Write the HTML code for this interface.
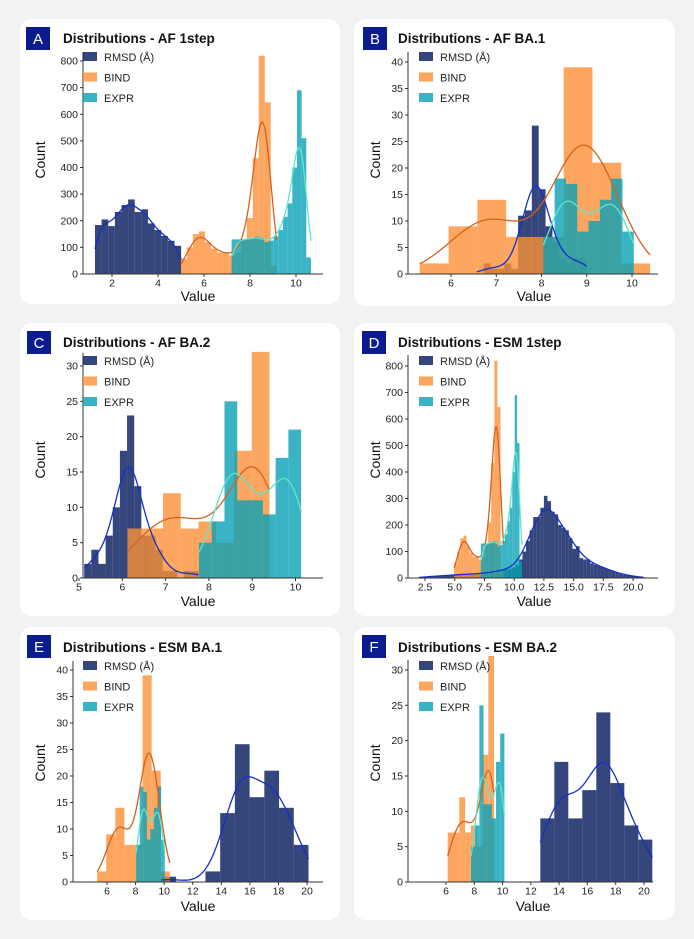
<!DOCTYPE html>
<html><head><meta charset="utf-8"><title>Distributions</title>
<style>
html,body{margin:0;padding:0;background:#f2f2f2;}
svg{display:block;font-family:"Liberation Sans",sans-serif;}
</style></head>
<body>
<svg id="fig" width="694" height="939" viewBox="0 0 694 939"></svg>
<script>
// ---------- DATA ----------
// Panel A: AF 1step
const aRmsdStart = 1.26, aRmsdWidth = 0.288;
const aRmsdCounts = [184,205,180,233,259,280,233,243,190,165,143,125,106];
const aBindStart = 5.0, aBindWidth = 0.26;
const aBindCounts = [58,100,150,160,120,95,80,80,70,80,130,210,435,820,645,30];
const aExprStart = 7.2, aExprWidth = 0.203;
const aExprCounts = [130,130,130,130,135,140,135,120,125,140,165,215,265,400,690,510,62];
// Panel B: AF BA.1
const bRmsdStart = 6.57, bRmsdWidth = 0.152;
const bRmsdCounts = [0,2,1,1,2,1,11,12,28,16,9,6,3,2,3,3];
const bBindStart = 5.31, bBindWidth = 0.636;
const bBindCounts = [2,9,14,7,7,39,21,2];
const bExprStart = 8.04, bExprWidth = 0.25;
const bExprCounts = [7,18,17,8,10,14,18,8];
// Panel C: AF BA.2
const cRmsdStart = 5.12, cRmsdWidth = 0.165;
const cRmsdCounts = [2,4,2,6,10,18,23,13,6,6,4,1,1,0,1,1];
const cBindStart = 6.12, cBindWidth = 0.41;
const cBindCounts = [7,7,12,7,8,5,18,32];
const cExprStart = 7.77, cExprWidth = 0.295;
const cExprCounts = [5,8,25,11,11,9,17,21];
// Panel D: ESM 1step
const dRmsdStart = 2.0, dRmsdWidth = 0.3;
const dRmsdCounts = [3,4,5,6,7,8,9,10,10,11,12,13,14,15,15,16,16,17,18,20,22,25,28,30,32,35,40,50,70,
  100,140,180,230,230,265,310,290,250,240,200,190,180,150,110,120,75,70,70,55,50,45,40,35,30,25,20,15,12,10,8,6,4,3];
const dBindStart = 4.95, dBindWidth = 0.26;
const dBindCounts = [58,100,150,160,120,95,80,80,70,80,130,210,435,820,645,30];
const dExprStart = 7.2, dExprWidth = 0.203;
const dExprCounts = [130,130,130,130,135,140,135,120,125,140,165,215,265,400,690,510,62];
// Panel E: ESM BA.1
const eRmsdStart = 9.8, eRmsdWidth = 1.03;
const eRmsdCounts = [1,0,0,2,13,26,16,21,14,7];
const eBindStart = 5.31, eBindWidth = 0.636;
const eBindCounts = [2,9,14,7,7,39,21,2];
const eExprStart = 8.04, eExprWidth = 0.25;
const eExprCounts = [7,18,17,8,10,14,18,8];
// Panel F: ESM BA.2
const fRmsdStart = 12.67, fRmsdWidth = 0.99;
const fRmsdCounts = [9,17,9,13,24,14,8,6];
const fBindStart = 6.12, fBindWidth = 0.41;
const fBindCounts = [7,7,12,7,8,5,18,32];
const fExprStart = 7.77, fExprWidth = 0.295;
const fExprCounts = [5,8,25,11,11,9,17,21];
// Tick labels
const ticksY800 = [0,100,200,300,400,500,600,700,800];
const ticksY40 = [0,5,10,15,20,25,30,35,40];
const ticksY30 = [0,5,10,15,20,25,30];
const ticksXA = [2,4,6,8,10];
const ticksXB = [6,7,8,9,10];
const ticksXC = [5,6,7,8,9,10];
const ticksXD = [2.5,5.0,7.5,10.0,12.5,15.0,17.5,20.0];
const ticksXEF = [6,8,10,12,14,16,18,20];
const seriesNames = ["RMSD (Å)","BIND","EXPR"];

// ---------- STYLE ----------
const fills = ["#01185a","#fc9037","#09a1b5"];
const lineCols = ["#1330c8","#d4621c","#5ee6cf"];
const NS = "http://www.w3.org/2000/svg";
const svg = document.getElementById("fig");
function mk(tag, attrs, parent){
  const e = document.createElementNS(NS, tag);
  for (const k in attrs) e.setAttribute(k, attrs[k]);
  (parent||svg).appendChild(e);
  return e;
}

const panels = [
 {key:"a",letter:"A",title:"Distributions - AF 1step",card:[20,19,320,285],box:[26,27],tx:63,ty:43,
  ax:{x:83,xEnd:323,yTop:52,y0:274,v0:2,p0:112,ppu:23,ymax:800,ytop:61},yt:ticksY800,xt:ticksXA,dec:0,
  leg:[83,52],cnt:[40,160],val:[198,301],
  s:[[aRmsdStart,aRmsdWidth,aRmsdCounts],[aBindStart,aBindWidth,aBindCounts],[aExprStart,aExprWidth,aExprCounts]]},
 {key:"b",letter:"B",title:"Distributions - AF BA.1",card:[354,19,321,287],box:[363,27],tx:398,ty:43,
  ax:{x:408,xEnd:658,yTop:52,y0:274,v0:6,p0:451,ppu:45.25,ymax:40,ytop:62},yt:ticksY40,xt:ticksXB,dec:0,
  leg:[419,52],cnt:[375,160],val:[534,301],
  s:[[bRmsdStart,bRmsdWidth,bRmsdCounts],[bBindStart,bBindWidth,bBindCounts],[bExprStart,bExprWidth,bExprCounts]]},
 {key:"c",letter:"C",title:"Distributions - AF BA.2",card:[20,323,320,293],box:[27,331],tx:63,ty:347,
  ax:{x:83,xEnd:323,yTop:353,y0:578,v0:5,p0:79,ppu:43.3,ymax:30,ytop:366},yt:ticksY30,xt:ticksXC,dec:0,
  leg:[83,356],cnt:[40,460],val:[198,606],
  s:[[cRmsdStart,cRmsdWidth,cRmsdCounts],[cBindStart,cBindWidth,cBindCounts],[cExprStart,cExprWidth,cExprCounts]]},
 {key:"d",letter:"D",title:"Distributions - ESM 1step",card:[354,323,321,293],box:[362,331],tx:398,ty:347,
  ax:{x:408,xEnd:658,yTop:355,y0:578,v0:2.5,p0:425,ppu:11.89,ymax:800,ytop:366},yt:ticksY800,xt:ticksXD,dec:1,
  leg:[419,356],cnt:[375,460],val:[534,606],
  s:[[dRmsdStart,dRmsdWidth,dRmsdCounts],[dBindStart,dBindWidth,dBindCounts],[dExprStart,dExprWidth,dExprCounts]]},
 {key:"e",letter:"E",title:"Distributions - ESM BA.1",card:[20,627,320,293],box:[27,635],tx:63,ty:652,
  ax:{x:73,xEnd:323,yTop:661,y0:882,v0:6,p0:107,ppu:14.29,ymax:40,ytop:670},yt:ticksY40,xt:ticksXEF,dec:0,
  leg:[83,661],cnt:[40,763],val:[198,911],
  s:[[eRmsdStart,eRmsdWidth,eRmsdCounts],[eBindStart,eBindWidth,eBindCounts],[eExprStart,eExprWidth,eExprCounts]]},
 {key:"f",letter:"F",title:"Distributions - ESM BA.2",card:[354,627,321,293],box:[362,635],tx:398,ty:652,
  ax:{x:408,xEnd:653,yTop:660,y0:882,v0:6,p0:446,ppu:14.14,ymax:30,ytop:670},yt:ticksY30,xt:ticksXEF,dec:0,
  leg:[419,661],cnt:[375,763],val:[533,911],
  s:[[fRmsdStart,fRmsdWidth,fRmsdCounts],[fBindStart,fBindWidth,fBindCounts],[fExprStart,fExprWidth,fExprCounts]]}
];

function kde(start, width, counts){
  let n=0, m=0;
  counts.forEach((c,i)=>{ n+=c; m+=c*(start+(i+0.5)*width); });
  m/=n;
  let v=0;
  counts.forEach((c,i)=>{ const x=start+(i+0.5)*width; v+=c*(x-m)*(x-m); });
  const sd=Math.sqrt(v/n + width*width/12);
  const h=Math.max(1.3*sd*Math.pow(n,-0.2), 0.9*width);
  const pts=[]; const a=start, b=start+counts.length*width;
  for(let k=0;k<=120;k++){
    const x=a+(b-a)*k/120; let d=0;
    counts.forEach((c,i)=>{ const xc=start+(i+0.5)*width; const z=(x-xc)/h; d+=c*Math.exp(-0.5*z*z); });
    d=d/(n*h*Math.sqrt(2*Math.PI));
    pts.push([x, d*n*width]);
  }
  return pts;
}

panels.forEach(p=>{
  const g = mk("g",{});
  
  
  const card = mk("rect",{x:p.card[0],y:p.card[1],width:p.card[2],height:p.card[3],rx:12,fill:"#ffffff"},g);
  
  
  const box = mk("rect",{x:p.box[0],y:p.box[1],width:24,height:23,fill:"#0b1c8e"},g);
  
  
  const lt = mk("text",{x:p.box[0]+12,y:p.box[1]+17,"text-anchor":"middle","font-size":15,fill:"#fff"},g);
  lt.textContent=p.letter;
  
  
  const tt = mk("text",{x:p.tx,y:p.ty,"font-size":13.5,"font-weight":"bold",fill:"#111"},g);
  tt.textContent=p.title;
  
  

  const A=p.ax;
  const xs = v => A.p0 + (v-A.v0)*A.ppu;
  const ys = c => A.y0 - c*(A.y0-A.ytop)/A.ymax;

  p.s.forEach((s,si)=>{
    const [st,w,counts]=s;
    const bg = mk("g",{},g);
    
    
    counts.forEach((c,i)=>{
      if(c<=0) return;
      const x1=xs(st+i*w), x2=xs(st+(i+1)*w);
      const r = mk("rect",{x:x1,y:ys(c),width:Math.max(0,x2-x1),height:A.y0-ys(c),fill:fills[si],"fill-opacity":0.8},bg);
      
      
    });
  });
  p.s.forEach((s,si)=>{
    const pts=kde(s[0],s[1],s[2]);
    const d=pts.map((q,k)=>(k?"L":"M")+xs(q[0]).toFixed(2)+","+ys(q[1]).toFixed(2)).join("");
    const path = mk("path",{d:d,fill:"none",stroke:lineCols[si],"stroke-width":1.3},g);
    
    
  });
  const yl = mk("line",{x1:A.x,y1:A.yTop,x2:A.x,y2:A.y0,stroke:"#333","stroke-width":1},g);
  
  
  const xl = mk("line",{x1:A.x,y1:A.y0,x2:A.xEnd,y2:A.y0,stroke:"#333","stroke-width":1},g);
  
  
  p.yt.forEach(t=>{
    const y=ys(t);
    mk("line",{x1:A.x-3,y1:y,x2:A.x,y2:y,stroke:"#333"},g);
    const tx = mk("text",{x:A.x-5,y:y+3.5,"text-anchor":"end","font-size":10.5,fill:"#222"},g);
    tx.textContent=t;
    
    
  });
  p.xt.forEach(t=>{
    const x=xs(t);
    mk("line",{x1:x,y1:A.y0,x2:x,y2:A.y0+3,stroke:"#333"},g);
    const tx = mk("text",{x:x,y:A.y0+12.5,"text-anchor":"middle","font-size":10.5,fill:"#222"},g);
    tx.textContent=t.toFixed(p.dec);
    
    
  });
  const cl = mk("text",{x:0,y:0,"text-anchor":"middle","font-size":14,fill:"#111",transform:`translate(${p.cnt[0]+5},${p.cnt[1]}) rotate(-90)`},g);
  cl.textContent="Count";
  
  
  const vl = mk("text",{x:p.val[0],y:p.val[1],"text-anchor":"middle","font-size":14,fill:"#111"},g);
  vl.textContent="Value";
  
  
  seriesNames.forEach((nm,si)=>{
    const y=p.leg[1]+si*20.5;
    const sw = mk("rect",{x:p.leg[0],y:y,width:14,height:9,fill:fills[si],"fill-opacity":0.8},g);
    
    
    const lt2 = mk("text",{x:p.leg[0]+21,y:y+9,"font-size":11,fill:"#222"},g);
    lt2.textContent=nm;
    
    
  });
});
</script>
</body></html>
